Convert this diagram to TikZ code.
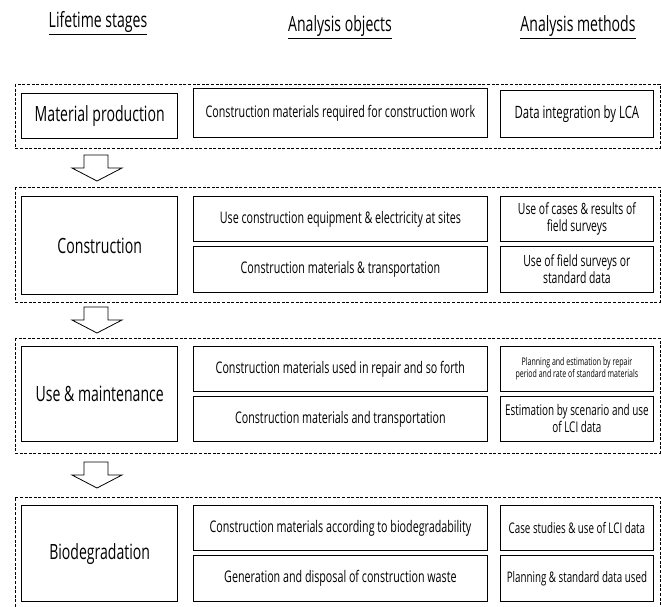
\documentclass[tikz,border=0pt]{standalone}
\usepackage{fontspec}
\setmainfont{Open Sans}[FakeStretch=0.67]
\tikzset{stagebox/.style={draw,line width=1.4pt,minimum width=156pt,inner sep=0pt,
   anchor=north west,align=center,font=\fontsize{21}{24}\selectfont},
 objbox/.style={draw,line width=0.8pt,minimum width=294pt,inner sep=0pt,
   anchor=north west,align=center,font=\fontsize{16}{18}\selectfont},
 methbox/.style={draw,line width=0.8pt,minimum width=153pt,inner sep=0pt,
   anchor=north west,align=center,font=\fontsize{17}{19}\selectfont},
 twoline/.style={font=\fontsize{15.5}{17}\selectfont},
 groupbox/.style={draw,line width=0.9pt,dash pattern=on 3pt off 1.6pt},
 header/.style={font=\fontsize{21}{24}\selectfont},
 blockarrow/.style={draw,line width=0.8pt,fill=white,line join=miter},
 }

\begin{document}
\begin{tikzpicture}[x=1pt,y=-1pt]
        \useasboundingbox (0,0) rectangle (661,607);
        % column headers
        \node[header] (hstage) at (98,23) {\underline{Lifetime stages}};
        \node[header] (hobj) at (340,27) {\underline{Analysis objects}};
        \node[header] (hmeth) at (578,27) {\underline{Analysis methods}};

        % dashed groups
        \draw[groupbox] (15,84) rectangle (660,148);
        \draw[groupbox] (15,187) rectangle (660,302);
        \draw[groupbox] (15,338) rectangle (660,453);
        \draw[groupbox] (15,607) -- (15,497) -- (660,497) -- (660,607);

        % material production
        \node[stagebox,minimum height=45pt] (mp) at (21,93) {Material production};
        \node[objbox,minimum height=49pt] (mpobj) at (193,88) {Construction materials required for construction work};
        \node[methbox,minimum height=47pt] (mpmeth) at (500,90) {Data integration by LCA};

        % construction
        \node[stagebox,minimum height=98pt] (con) at (21,196) {Construction};
        \node[objbox,minimum height=45pt] (conobja) at (193,196) {Use construction equipment \& electricity at sites};
        \node[objbox,minimum height=46pt] (conobjb) at (193,246) {Construction materials \& transportation};
        \node[methbox,twoline,minimum height=45pt] (conmetha) at (500,196) {Use of cases \& results of\\field surveys};
        \node[methbox,twoline,minimum height=46pt] (conmethb) at (500,246) {Use of field surveys or\\standard data};

        % use & maintenance
        \node[stagebox,minimum height=95pt] (use) at (21,346) {Use \& maintenance};
        \node[objbox,minimum height=45pt] (useobja) at (193,346) {Construction materials used in repair and so forth};
        \node[objbox,minimum height=45pt] (useobjb) at (193,396) {Construction materials and transportation};
        \node[methbox,minimum height=45pt,font=\fontsize{10.5}{12}\selectfont] (usemetha) at (500,346) {Planning and estimation by repair\\period and rate of standard materials};
        \node[methbox,minimum height=45pt,font=\fontsize{14.8}{17}\selectfont] (usemethb) at (500,396) {Estimation by scenario and use\\of LCI data};

        % biodegradation
        \node[stagebox,minimum height=96pt] (bio) at (21,505) {Biodegradation};
        \node[objbox,minimum height=45pt] (bioobja) at (193,505) {Construction materials according to biodegradability};
        \node[objbox,minimum height=46pt] (bioobjb) at (193,555) {Generation and disposal of construction waste};
        \node[methbox,minimum height=45pt,font=\fontsize{14.6}{17}\selectfont] (biometha) at (500,505) {Case studies \& use of LCI data};
        \node[methbox,minimum height=46pt,font=\fontsize{14.6}{17}\selectfont] (biomethb) at (500,555) {Planning \& standard data used};

        % arrows between stages
        \foreach \y in {155,307,462} {
            \draw[blockarrow] (84,\y) -- (108,\y) -- (108,\y+13) -- (122,\y+13) -- (97,\y+26)
                -- (72,\y+13) -- (84,\y+13) -- cycle;
        }
    \end{tikzpicture}
\end{document}
